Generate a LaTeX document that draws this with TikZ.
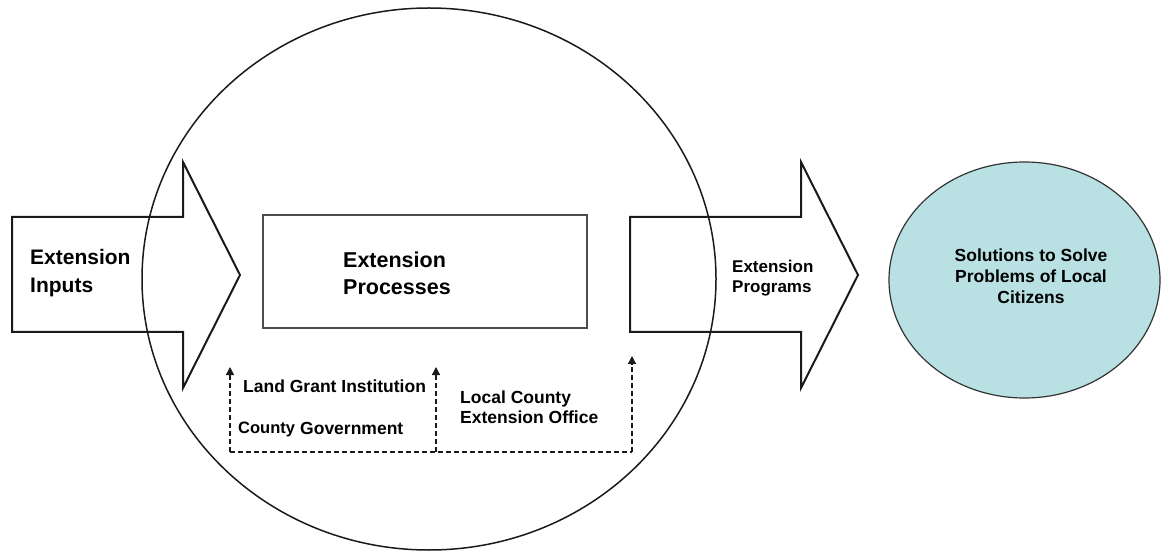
\documentclass[tikz,border=0pt]{standalone}
\usepackage{fontspec}
\setmainfont{Liberation Sans}
\usetikzlibrary{arrows.meta,shapes.geometric}
\definecolor{solfill}{HTML}{B9E1E4}
\definecolor{inkline}{HTML}{1A1A1A}
\tikzset{
  bigarrow/.style={draw=inkline, line width=2pt, line join=miter},
  lbl/.style={inner sep=0pt, anchor=base west, text=black, font=\bfseries\fontsize{#1}{#1}\selectfont},
  clbl/.style={inner sep=0pt, anchor=base, text=black, font=\bfseries\fontsize{17.5}{17.5}\selectfont},
  feed/.style={draw=inkline, line width=1.3pt, dash pattern=on 5pt off 3pt},
  feedtip/.style={feed, -{Triangle[width=8pt,length=8pt]}},
}
\begin{document}
\begin{tikzpicture}[x=1pt,y=-1pt]
\useasboundingbox (0,0) rectangle (1162,553);

% input arrow
\draw[bigarrow] (12,217) -- (183,217) -- (183,162) -- (240,275) -- (183,388)
  -- (183,332) -- (12,332) -- cycle;
% output arrow
\draw[bigarrow] (630,217) -- (801,217) -- (801,162) -- (858,275) -- (801,388)
  -- (801,332) -- (630,332) -- cycle;

% the extension system
\node[draw=inkline, line width=1.5pt, ellipse, minimum width=574, minimum height=542, inner sep=0pt] (system) at (429,279) {};

% process box
\node[draw=black!70, line width=1.5pt, minimum width=324, minimum height=113, inner sep=0pt] (proc) at (425,271.5) {};

% outcome
\node[draw=black!80, line width=1.2pt, fill=solfill, ellipse, minimum width=271, minimum height=236, inner sep=0pt] (sol) at (1024.5,280) {};

% labels
\node[lbl=21] (inA) at (30,265) {Extension};
\node[lbl=21] (inB) at (30,293) {Inputs};
\node[lbl=21.5] (prA) at (343,268) {Extension};
\node[lbl=21.5] (prB) at (343,295) {Processes};
\node[lbl=17] (pgA) at (732,273) {Extension};
\node[lbl=17] (pgB) at (732,293) {Programs};
\node[clbl] (soA) at (1031,261.5) {Solutions to Solve};
\node[clbl] (soB) at (1031,283) {Problems of Local};
\node[clbl] (soC) at (1031,304) {Citizens};

\node[lbl=17.5] (land) at (243,392) {Land Grant Institution};
\node[lbl=16.5] (cty) at (238,433) {County};
\node[lbl=17.5] (gov) at (300,434) {Government};
\node[lbl=17.5] (locA) at (460,403) {Local County};
\node[lbl=17.5] (locB) at (460,423) {Extension Office};

% feedback paths
\coordinate (b1) at (230,452);
\coordinate (b2) at (436,452);
\coordinate (b3) at (632,452);
\coordinate (t1) at (230,367);
\coordinate (t2) at (436,367);
\coordinate (t3) at (632,356);
\draw[feed] (b1) -- (b3);
\draw[feedtip] (b1) -- (t1);
\draw[feedtip] (b2) -- (t2);
\draw[feedtip] (b3) -- (t3);
\end{tikzpicture}
\end{document}
